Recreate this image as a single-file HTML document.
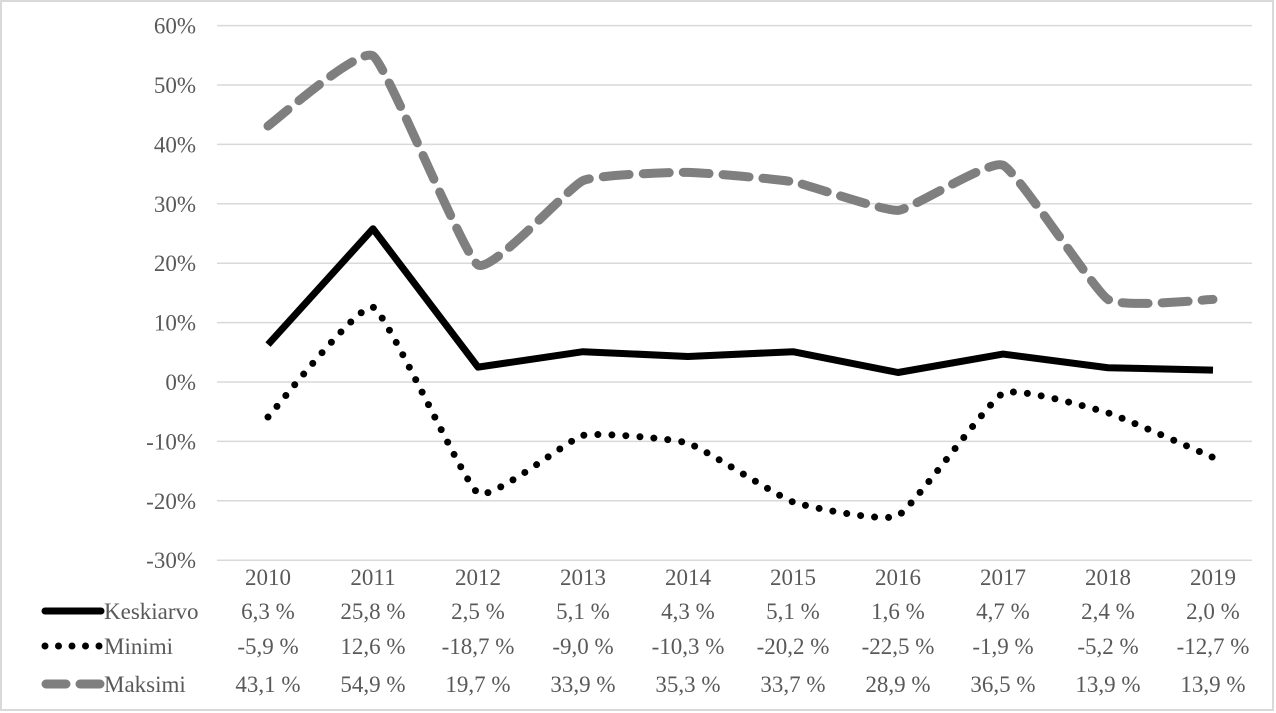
<!DOCTYPE html>
<html><head><meta charset="utf-8"><style>
html,body{margin:0;padding:0;background:#fff}
svg{display:block}
svg text{font-family:"Liberation Serif","DejaVu Serif",serif !important;font-size:23px;fill:#595959}
</style></head><body>
<svg id="s" width="1276" height="713" xmlns="http://www.w3.org/2000/svg">
<rect x="1" y="1" width="1272" height="709" fill="#fff" stroke="#d9d9d9" stroke-width="2"/>
<g id="g"></g>
</svg>
<script>
const NS="http://www.w3.org/2000/svg",s=document.getElementById('g');
function el(t,a,txt){const e=document.createElementNS(NS,t);for(const k in a)e.setAttribute(k,a[k]);if(txt!==undefined){e.textContent=txt;}s.appendChild(e);return e;}
const Y=v=>382-v*5.94, X=i=>268+i*105;
for(let v=60;v>=-30;v-=10){el('line',{x1:217,x2:1252,y1:Y(v),y2:Y(v),stroke:'#d9d9d9','stroke-width':1.5});
el('text',{x:196,y:Y(v)+8,'text-anchor':'end'},v+'%');}
const yrs=[2010,2011,2012,2013,2014,2015,2016,2017,2018,2019];
const mean=[6.3,25.8,2.5,5.1,4.3,5.1,1.6,4.7,2.4,2.0];
const mn=[-5.9,12.6,-18.7,-9.0,-10.3,-20.2,-22.5,-1.9,-5.2,-12.7];
const mx=[43.1,54.9,19.7,33.9,35.3,33.7,28.9,36.5,13.9,13.9];
function smooth(d){const p=d.map((v,i)=>[X(i),Y(v)]);let r='M'+p[0];const t=15;
for(let i=0;i<p.length-1;i++){const p0=p[i-1]||p[i],p1=p[i],p2=p[i+1],p3=p[i+2]||p2;
const c1=[p1[0]+(p2[0]-p0[0])/t,p1[1]+(p2[1]-p0[1])/t],c2=[p2[0]-(p3[0]-p1[0])/t,p2[1]-(p3[1]-p1[1])/t];
r+=' C'+c1+' '+c2+' '+p2;}return r;}
el('path',{d:smooth(mx),fill:'none',stroke:'#7f7f7f','stroke-width':9,'stroke-dasharray':'26 14','stroke-linecap':'round'});
el('path',{d:smooth(mn),fill:'none',stroke:'#000','stroke-width':7,'stroke-dasharray':'0 14','stroke-linecap':'round'});
el('path',{d:'M'+mean.map((v,i)=>X(i)+','+Y(v)).join(' L'),fill:'none',stroke:'#000','stroke-width':7,'stroke-linejoin':'round'});
const f=v=>v.toFixed(1).replace('.',',')+' %';
yrs.forEach((y,i)=>{el('text',{x:X(i),y:585,'text-anchor':'middle'},y);
el('text',{x:X(i),y:619,'text-anchor':'middle'},f(mean[i]));
el('text',{x:X(i),y:654,'text-anchor':'middle'},f(mn[i]));
el('text',{x:X(i),y:692,'text-anchor':'middle'},f(mx[i]));});
el('line',{x1:45,x2:101,y1:611,y2:611,stroke:'#000','stroke-width':7,'stroke-linecap':'round'});
el('line',{x1:45,x2:101,y1:646,y2:646,stroke:'#000','stroke-width':7,'stroke-dasharray':'0 13.5','stroke-linecap':'round'});
el('line',{x1:46,x2:100,y1:684,y2:684,stroke:'#7f7f7f','stroke-width':9,'stroke-dasharray':'20 14','stroke-linecap':'round'});
el('text',{x:104,y:619},'Keskiarvo');el('text',{x:104,y:654},'Minimi');el('text',{x:104,y:692},'Maksimi');
</script>
</body></html>
